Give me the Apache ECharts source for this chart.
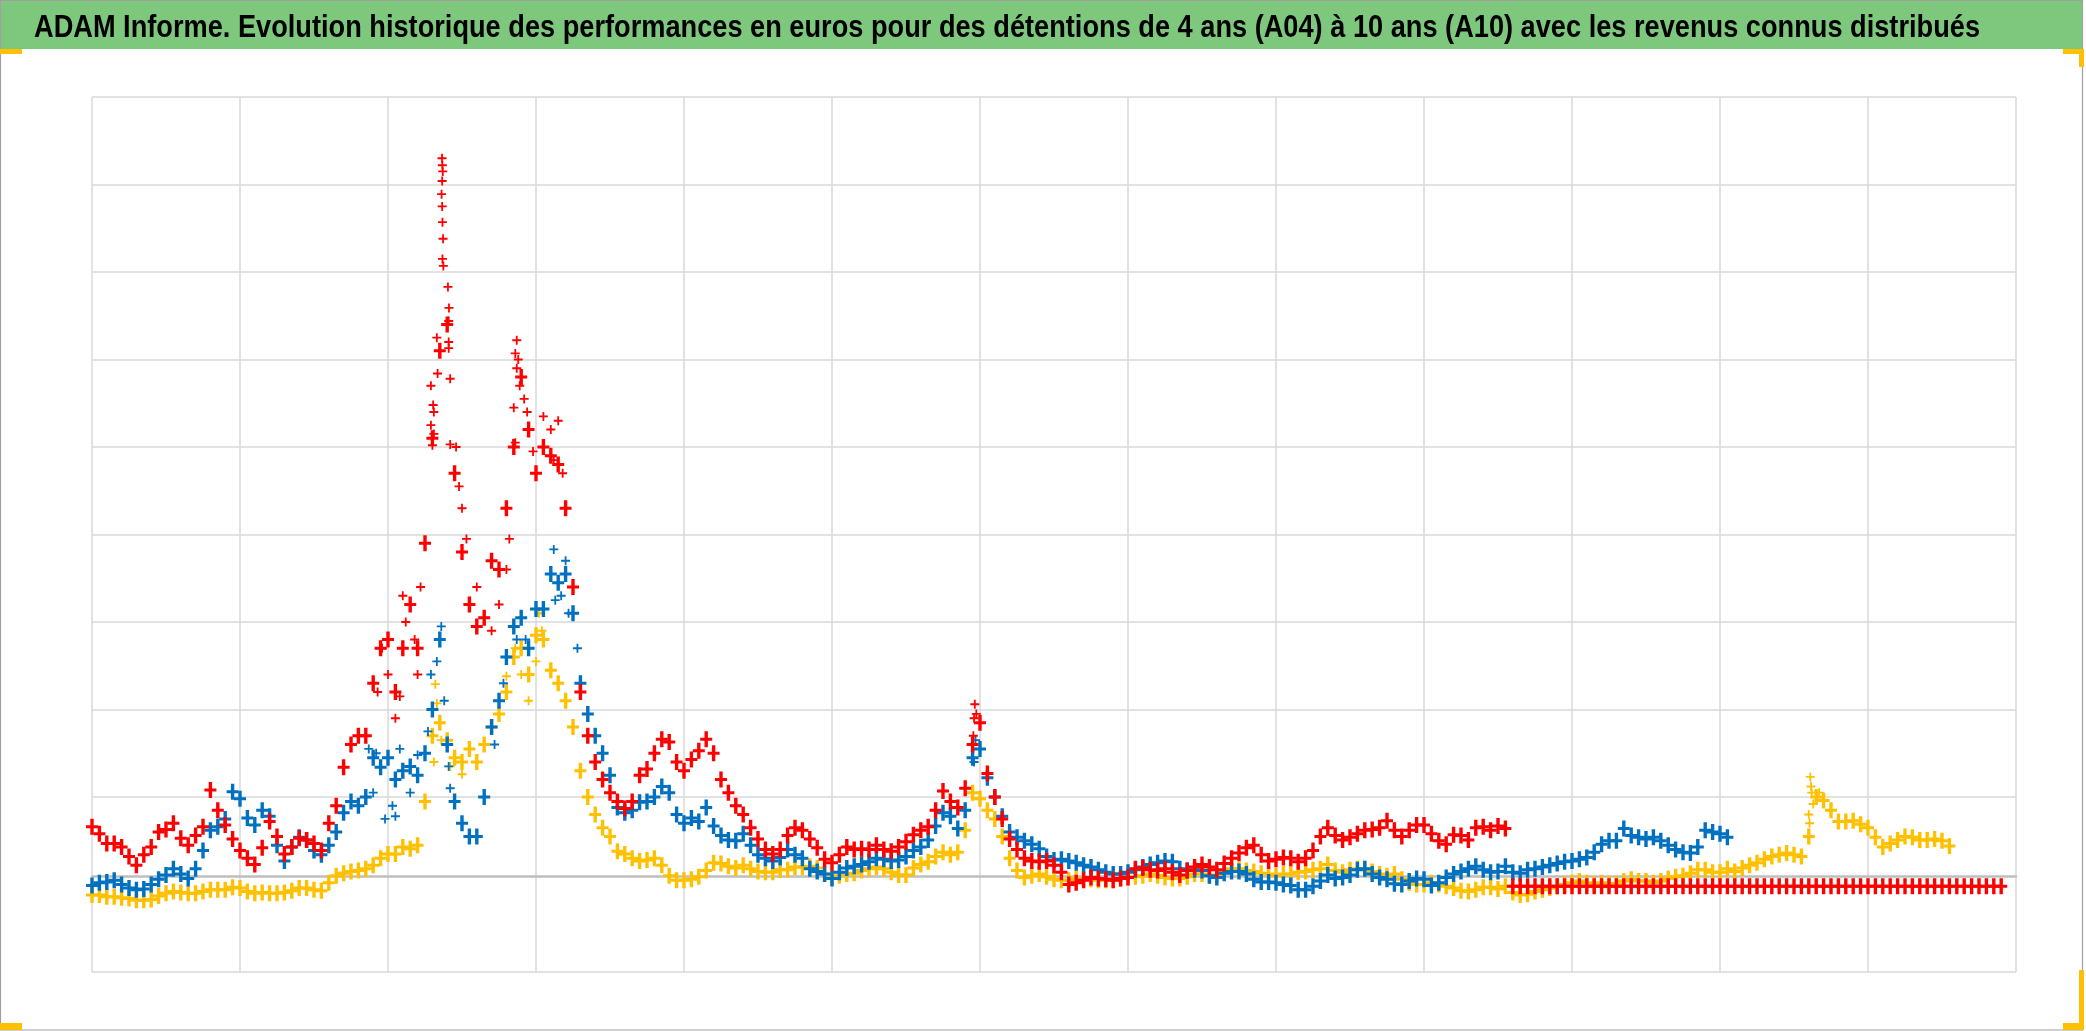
<!DOCTYPE html>
<html>
<head>
<meta charset="utf-8">
<script src="https://cdn.jsdelivr.net/npm/echarts@6/dist/echarts.min.js"></script>
<style>
html,body{margin:0;padding:0;background:#fff;}
#c{width:2086px;height:1031px;}
</style>
</head>
<body>
<div id="c"></div>
<script>
const titleText = "ADAM Informe. Evolution historique des performances en euros pour des détentions de 4 ans (A04) à 10 ans (A10) avec les revenus connus distribués";

// x positions: index * xStep (grid units, 13 vertical gridline intervals)
const xStep = 0.05;

// red series (grid units; 0 = horizontal axis)
const redValues = [
0.56,0.48,0.37,0.37,0.33,0.22,0.12,0.24,0.33,0.50,
0.53,0.60,0.43,0.35,0.46,0.56,0.98,0.75,0.58,0.42,
0.29,0.20,0.13,0.32,0.62,0.45,0.25,0.33,0.43,0.41,
0.37,0.29,0.60,0.80,1.24,1.50,1.60,1.60,2.20,2.60,
2.70,2.10,2.60,3.10,2.60,3.80,5.00,6.00,6.30,4.60,
3.70,3.10,2.85,2.95,3.60,3.50,4.20,4.90,5.70,5.10,
4.60,4.90,4.80,4.70,4.20,3.30,2.10,1.60,1.30,1.10,
0.95,0.85,0.77,0.85,1.15,1.22,1.40,1.56,1.53,1.30,
1.20,1.33,1.43,1.56,1.40,1.10,0.95,0.80,0.70,0.55,
0.42,0.30,0.25,0.30,0.46,0.55,0.52,0.42,0.32,0.19,
0.15,0.24,0.33,0.30,0.31,0.30,0.35,0.30,0.28,0.33,
0.39,0.47,0.52,0.56,0.75,0.97,0.85,0.78,1.00,1.50,
1.75,1.17,0.90,0.65,0.42,0.30,0.20,0.17,0.16,0.17,
0.12,0.04,-0.10,-0.08,-0.05,-0.02,-0.03,-0.04,-0.05,-0.03,
-0.02,0.08,0.09,0.07,0.06,0.08,0.04,0.01,0.06,0.10,
0.13,0.10,0.07,0.14,0.20,0.26,0.32,0.35,0.24,0.17,
0.19,0.21,0.20,0.16,0.20,0.29,0.45,0.55,0.46,0.41,
0.44,0.48,0.52,0.53,0.55,0.63,0.52,0.45,0.52,0.58,
0.58,0.48,0.40,0.36,0.47,0.46,0.41,0.55,0.56,0.52,
0.57,0.54,
-0.12,-0.12,-0.12,-0.12,-0.12,-0.12,-0.12,-0.12,
-0.12,-0.12,-0.12,-0.12,-0.12,-0.12,-0.12,-0.12,-0.12,-0.12,
-0.12,-0.12,-0.12,-0.12,-0.12,-0.12,-0.12,-0.12,-0.12,-0.12,
-0.12,-0.12,-0.12,-0.12,-0.12,-0.12,-0.12,-0.12,-0.12,-0.12,
-0.12,-0.12,-0.12,-0.12,-0.12,-0.12,-0.12,-0.12,-0.12,-0.12,
-0.12,-0.12,-0.12,-0.12,-0.12,-0.12,-0.12,-0.12,-0.12,-0.12,
-0.12,-0.12,-0.12,-0.12,-0.12,-0.12,-0.12,-0.12,-0.12
];

const blueValues = [
-0.11,-0.08,-0.07,-0.05,-0.10,-0.14,-0.16,-0.15,-0.10,-0.04,
0.01,0.08,0.02,-0.03,0.08,0.29,0.52,0.56,0.65,0.96,
0.88,0.66,0.58,0.75,0.68,0.35,0.17,0.33,0.44,0.41,
0.29,0.24,0.35,0.50,0.72,0.85,0.80,0.90,1.35,1.24,
1.35,1.10,1.20,1.25,1.15,1.40,1.90,2.70,1.50,0.85,
0.60,0.45,0.45,0.90,1.70,2.00,2.50,2.85,2.95,2.60,
3.05,3.05,3.45,3.35,3.45,3.00,2.20,1.85,1.60,1.40,
1.15,0.78,0.72,0.75,0.84,0.85,0.90,1.02,0.95,0.70,
0.60,0.66,0.62,0.78,0.57,0.46,0.41,0.40,0.48,0.35,
0.24,0.20,0.17,0.21,0.30,0.24,0.20,0.08,0.05,0.02,
-0.03,0.04,0.09,0.11,0.13,0.16,0.20,0.19,0.17,0.18,
0.22,0.29,0.33,0.41,0.57,0.72,0.68,0.54,0.75,1.35,
1.45,1.12,0.90,0.68,0.50,0.44,0.40,0.36,0.31,0.22,
0.18,0.19,0.17,0.15,0.12,0.10,0.07,0.04,0.02,0.02,
0.04,0.07,0.10,0.13,0.15,0.17,0.16,0.08,0.06,0.07,
0.06,0.00,-0.02,0.03,0.05,0.05,0.02,-0.04,-0.07,-0.07,
-0.08,-0.10,-0.11,-0.16,-0.16,-0.12,-0.06,0.01,-0.03,-0.02,
0.01,0.07,0.08,0.02,-0.02,-0.04,-0.09,-0.10,-0.06,-0.03,
-0.04,-0.11,-0.08,-0.02,0.02,0.05,0.08,0.11,0.07,0.04,
0.05,0.11,0.04,0.03,0.07,0.08,0.10,0.12,0.14,0.16,
0.17,0.19,0.21,0.27,0.36,0.40,0.40,0.54,0.46,0.44,
0.42,0.44,0.40,0.35,0.30,0.27,0.26,0.33,0.52,0.50,
0.48,0.44
];

const yellowValues = [
-0.22,-0.22,-0.24,-0.24,-0.25,-0.26,-0.28,-0.28,-0.27,-0.23,
-0.20,-0.18,-0.19,-0.20,-0.20,-0.18,-0.16,-0.16,-0.16,-0.13,
-0.14,-0.18,-0.20,-0.19,-0.20,-0.20,-0.19,-0.17,-0.14,-0.14,
-0.16,-0.17,-0.08,0.00,0.03,0.05,0.06,0.08,0.12,0.20,
0.25,0.25,0.33,0.31,0.35,0.85,1.60,1.75,1.55,1.35,
1.30,1.45,1.30,1.50,1.70,1.85,2.10,2.50,2.60,2.30,
2.75,2.70,2.35,2.20,2.00,1.70,1.20,0.90,0.70,0.55,
0.45,0.28,0.25,0.20,0.17,0.18,0.20,0.12,0.00,-0.05,
-0.05,-0.04,-0.01,0.06,0.15,0.14,0.11,0.09,0.12,0.08,
0.05,0.04,0.04,0.07,0.07,0.10,0.10,0.11,0.09,0.02,
-0.02,0.00,0.02,0.03,0.06,0.08,0.10,0.08,0.04,0.01,
0.01,0.09,0.13,0.16,0.22,0.27,0.24,0.27,0.52,0.95,
0.88,0.75,0.65,0.45,0.20,0.06,-0.02,0.00,0.02,-0.01,
-0.04,-0.05,-0.05,-0.03,-0.03,-0.04,-0.05,-0.05,-0.05,-0.03,
-0.02,-0.01,0.00,0.02,0.00,-0.02,-0.03,-0.03,-0.01,0.02,
0.02,0.00,0.01,0.05,0.08,0.08,0.06,0.05,0.03,0.02,
0.00,0.02,0.02,0.04,0.05,0.07,0.08,0.13,0.06,0.04,
0.07,0.08,0.08,0.05,0.02,0.00,0.02,-0.04,-0.08,-0.10,
-0.10,-0.08,-0.10,-0.12,-0.14,-0.17,-0.18,-0.16,-0.13,-0.13,
-0.15,-0.12,-0.19,-0.22,-0.21,-0.18,-0.16,-0.14,-0.12,-0.10,
-0.08,-0.06,-0.08,-0.10,-0.08,-0.09,-0.09,-0.06,-0.04,-0.06,
-0.06,-0.08,-0.06,-0.03,-0.01,0.00,0.03,0.07,0.07,0.04,
0.04,0.08,0.05,0.09,0.12,0.15,0.19,0.22,0.24,0.26,
0.24,0.22,0.45,0.90,0.86,0.75,0.62,0.62,0.63,0.59,
0.55,0.44,0.33,0.37,0.41,0.45,0.44,0.41,0.41,0.42,
0.40,0.34
];

// isolated points of the fast moves, [x, value]
const redExtra = [
[2.365,8.2],[2.367,8.12],[2.37,8.05],[2.366,7.94],[2.362,7.79],[2.366,7.65],[2.368,7.47],[2.372,7.28],
[2.368,7.05],[2.374,6.97],[2.405,6.73],[2.412,6.49],[2.41,6.34],[2.33,6.15],[2.41,6.1],[2.41,6.03],
[2.335,5.74],[2.42,5.68],[2.29,5.6],[2.305,5.38],[2.31,5.3],[2.29,5.15],[2.31,5.05],[2.3,4.92],[2.42,4.93],
[2.87,6.12],[2.86,5.97],[2.88,5.9],[2.87,5.8],[2.9,5.7],[2.89,5.6],[2.92,5.45],[2.85,5.35],[2.94,5.3],
[2.95,5.1],[2.86,4.95],[2.98,4.85],
[3.05,5.25],[3.1,5.1],[3.15,5.2],[3.12,4.75],[3.18,4.6],
[1.93,2.1],[1.96,2.6],[2.0,2.3],[2.05,1.8],[2.08,2.05],[2.1,3.2],[2.12,2.9],[2.18,2.7],[2.2,2.3],[2.22,3.3],
[2.46,4.9],[2.48,4.45],[2.5,4.2],[2.53,3.85],[2.6,3.3],[2.65,2.95],[2.7,2.8],[2.75,3.1],[2.8,3.5],[2.82,3.85],
[5.965,1.96],[5.96,1.8],[5.975,1.85],[5.955,1.6]
];
const blueExtra = [
[1.87,1.45],[1.92,1.4],[1.9,0.95],[1.98,0.65],[2.03,0.8],[2.05,0.68],[2.08,1.45],[2.15,0.95],[2.2,1.38],
[2.27,1.65],[2.29,2.3],[2.33,2.45],[2.36,2.85],[2.38,2.0],[2.41,1.25],[2.42,1.0],[2.72,1.5],[2.78,2.2],
[2.87,2.7],[2.93,2.7],[3.12,3.73],[3.17,3.2],[3.22,3.0],[3.28,2.6],[3.2,3.6],[3.13,3.15],[5.97,1.55],[5.96,1.3]
];
const yellowExtra = [
[2.32,2.19],[2.33,1.97],[2.36,1.55],[2.42,1.25],[2.5,1.16],[2.31,1.3],[2.8,2.28],[2.86,2.6],[2.95,2.0],
[3.02,3.0],[3.04,2.8],[3.0,2.45],[2.9,2.3],
[11.61,1.13],[11.615,1.02],[11.62,0.95],[11.6,0.7],[11.605,0.6],[11.63,0.82],[11.67,0.95]
];

function toPairs(arr) {
  return arr.map(function (v, i) { return [Math.round(i * xStep * 1000) / 1000, v]; });
}

// tall '+' for the dense daily bands, plain '+' for isolated points
const plusBand = 'path://M0,6.5H12V9.5H0Z M4.3,0H7.7V16H4.3Z';
const plusThin = 'path://M0,4H10V6H0Z M4,0H6V10H4Z';
const gridColor = '#D9D9D9';
const ySplitColors = [gridColor, 'rgba(0,0,0,0)', gridColor, gridColor, gridColor, gridColor,
  gridColor, gridColor, gridColor, gridColor, gridColor];

const titleFont = 'bold 31px "Liberation Sans Narrow", "Liberation Sans", Arial, sans-serif';
const ctx = document.createElement('canvas').getContext('2d');
ctx.font = titleFont;
const titleW = ctx.measureText(titleText).width;
const titleScale = 1946 / titleW;

const chart = echarts.init(document.getElementById('c'), null, {renderer: 'canvas'});

function scatter(name, data, color, z, symbol, size) {
  return {
    type: 'scatter', name: name, data: data, symbol: symbol, symbolSize: size,
    itemStyle: {color: color, opacity: 1}, silent: true, z: z
  };
}

chart.setOption({
  animation: false,
  backgroundColor: '#ffffff',
  grid: {left: 92, right: 70, top: 97, bottom: 59, containLabel: false},
  xAxis: {
    type: 'value', min: 0, max: 13, interval: 1,
    axisLabel: {show: false}, axisTick: {show: false},
    axisLine: {show: true, onZero: true, lineStyle: {color: '#BFBFBF', width: 2.5}},
    splitLine: {show: true, lineStyle: {color: gridColor, width: 1.5}}
  },
  yAxis: {
    type: 'value', min: -1.1, max: 8.9, interval: 1,
    axisLabel: {show: false}, axisTick: {show: false}, axisLine: {show: false},
    splitLine: {show: true, lineStyle: {color: ySplitColors, width: 1.5}}
  },
  graphic: [
    {type: 'rect', shape: {x: 0, y: 0, width: 2083, height: 49}, style: {fill: '#7EC87E'}, z: 10},
    {type: 'rect', shape: {x: 0.5, y: 0.5, width: 2082, height: 1029.5}, style: {fill: 'none', stroke: '#A0A0A0', lineWidth: 1.2}, z: 11},
    {type: 'rect', shape: {x: 0, y: 49, width: 22, height: 5}, style: {fill: '#FFC000'}, z: 12},
    {type: 'rect', shape: {x: 0, y: 1023, width: 22, height: 7}, style: {fill: '#FFC000'}, z: 12},
    {type: 'rect', shape: {x: 2063, y: 49, width: 21, height: 5}, style: {fill: '#FFC000'}, z: 12},
    {type: 'rect', shape: {x: 2079, y: 49, width: 5, height: 18}, style: {fill: '#FFC000'}, z: 12},
    {type: 'rect', shape: {x: 2079, y: 970, width: 5, height: 60}, style: {fill: '#FFC000'}, z: 12},
    {type: 'rect', shape: {x: 2063, y: 1023, width: 21, height: 7}, style: {fill: '#FFC000'}, z: 12},
    {type: 'text', x: 1007, y: 28, scaleX: titleScale, z: 13,
      style: {text: titleText, font: titleFont, fill: '#000000',
        textAlign: 'center', textVerticalAlign: 'middle'}}
  ],
  series: [
    scatter('A10', toPairs(yellowValues), '#FFC000', 2, plusBand, [12, 16]),
    scatter('A10 ', yellowExtra, '#FFC000', 2, plusThin, 9),
    scatter('A07', toPairs(blueValues), '#0070C0', 3, plusBand, [12, 16]),
    scatter('A07 ', blueExtra, '#0070C0', 3, plusThin, 9),
    scatter('A04', toPairs(redValues), '#FF0000', 4, plusBand, [12, 16]),
    scatter('A04 ', redExtra, '#FF0000', 4, plusThin, 9)
  ]
});
</script>
</body>
</html>
